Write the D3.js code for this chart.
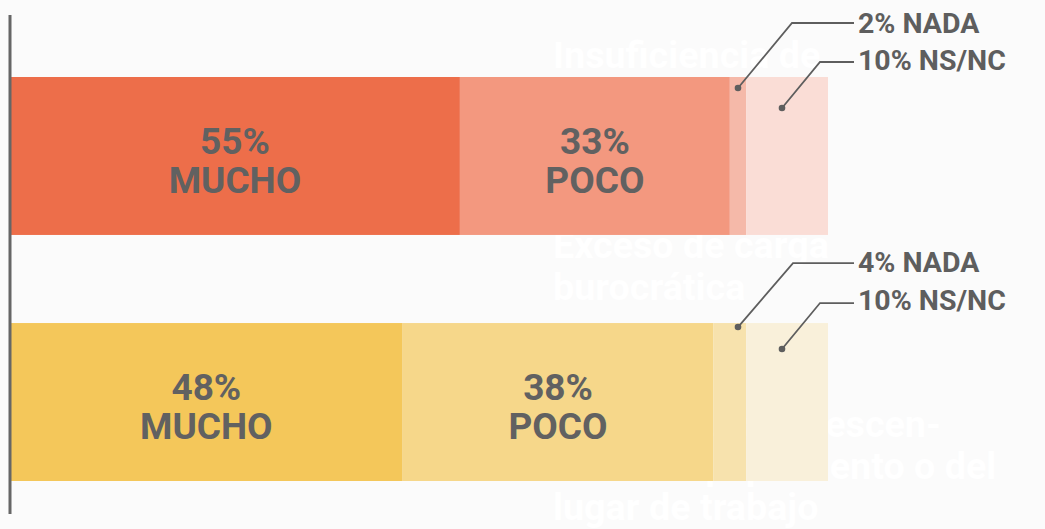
<!DOCTYPE html>
<html>
<head>
<meta charset="utf-8">
<script src="https://cdn.jsdelivr.net/npm/d3@7"></script>
<style>
  body { margin: 0; background: #fbfbfb; }
  svg { display: block; font-family: Roboto, "Noto Sans", sans-serif; }
</style>
</head>
<body>
<svg id="chart" width="1045" height="529"></svg>
<script>
// data
var categories = ["Insuficiencia de personal", "Exceso de carga burocrática"];
var levels = ["MUCHO", "POCO", "NADA", "NS/NC"];
var mucho = [55, 48];
var poco = [33, 38];
var nada = [2, 4];
var nsnc = [10, 10];

var palettes = [
  ["#ec6843", "#f3947a", "#f5b6a5", "#fadcd4"],
  ["#f4c553", "#f6d585", "#f7e1aa", "#f9efd8"]
];
// ghost titles sitting behind the bars (white on near-white)
var ghostLines = [
  ["Insuficiencia de l"],
  ["Exceso de carga", "burocrática"],
  ["Escasez u obsolescen-", "cia del equipamiento o del", "lugar de trabajo"]
];

var cfg = { left: 10, right: 828 };
var svg = d3.select("#chart");

var x = d3.scaleLinear().domain([0, 100]).range([cfg.left, cfg.right]);
var y = d3.scaleBand().domain(d3.range(categories.length)).range([77, 481]).paddingInner(0.358);

var rows = categories.map(function(c, i) {
  var vals = [mucho[i], poco[i], nada[i], nsnc[i]];
  var acc = 0;
  return vals.map(function(v, k) {
    var seg = { row: i, k: k, v: v, x0: acc, x1: acc + v };
    acc += v;
    return seg;
  });
});

svg.append("defs").append("clipPath").attr("id", "ghostClip")
  .append("rect").attr("x", 0).attr("y", 0).attr("width", cfg.right).attr("height", 529);

// ghost titles (behind)
var ghostY = [[68], [258, 300], [437, 479, 520]];
ghostLines.forEach(function(lines, i) {
  var g = svg.append("g").style("fill", "#ffffff").style("font-weight", 700)
    .style("font-size", "37.7px");
  if (i < 2) g.attr("clip-path", "url(#ghostClip)");
  lines.forEach(function(t, j) {
    g.append("text").attr("x", 553).attr("y", ghostY[i][j]).text(t);
  });
});

// bars
var bars = svg.append("g");
rows.forEach(function(row) {
  bars.selectAll(null)
    .data(row)
    .enter()
    .append("rect")
    .attr("x", function(d) { return x(d.x0); })
    .attr("y", function(d) { return y(d.row); })
    .attr("width", function(d) { return x(d.x1) - x(d.x0); })
    .attr("height", y.bandwidth())
    .style("fill", function(d) { return palettes[d.row][d.k]; })
    .style("opacity", 0.96);
});

// inner labels
var inner = svg.append("g").style("fill", "#616161").style("font-weight", 700)
  .style("font-size", "37px").attr("text-anchor", "middle");
rows.forEach(function(row) {
  row.slice(0, 2).forEach(function(d) {
    var cx = (x(d.x0) + x(d.x1)) / 2;
    var cy = y(d.row) + y.bandwidth() / 2;
    inner.append("text").attr("x", cx).attr("y", cy - 2).text(d.v + "%");
    inner.append("text").attr("x", cx).attr("y", cy + 37).text(levels[d.k]);
  });
});

// callouts for small segments (dot x, offsets from each bar top, read per row)
var callouts = [
  [{ dx: 738, dy: 11, ex: 792, ly: -54, ty: -44 }, { dx: 782, dy: 31, ex: 820, ly: -15, ty: -7 }],
  [{ dx: 738, dy: 4, ex: 793, ly: -60, ty: -51 }, { dx: 782, dy: 26, ex: 820, ly: -20, ty: -13 }]
];
var callG = svg.append("g");
rows.forEach(function(row, i) {
  var top = y(i);
  [row[2], row[3]].forEach(function(d, j) {
    var c = callouts[i][j];
    var dotY = top + c.dy, lineY = top + c.ly;
    callG.append("path")
      .attr("d", "M" + c.dx + "," + dotY + "L" + c.ex + "," + lineY + "L854," + lineY)
      .style("fill", "none").style("stroke", "#5e5e5e").style("stroke-width", 1.8);
    callG.append("circle").attr("cx", c.dx).attr("cy", dotY).attr("r", 3.3)
      .style("fill", "#5e5e5e");
    callG.append("text").attr("x", 858).attr("y", top + c.ty)
      .style("fill", "#5e5e5e").style("font-weight", 700).style("font-size", "28.5px")
      .text(d.v + "% " + levels[d.k]);
  });
});

// left axis line
svg.append("line")
  .attr("x1", 10).attr("x2", 10).attr("y1", 15).attr("y2", 514)
  .style("stroke", "#666").style("stroke-width", 3);
</script>
</body>
</html>
